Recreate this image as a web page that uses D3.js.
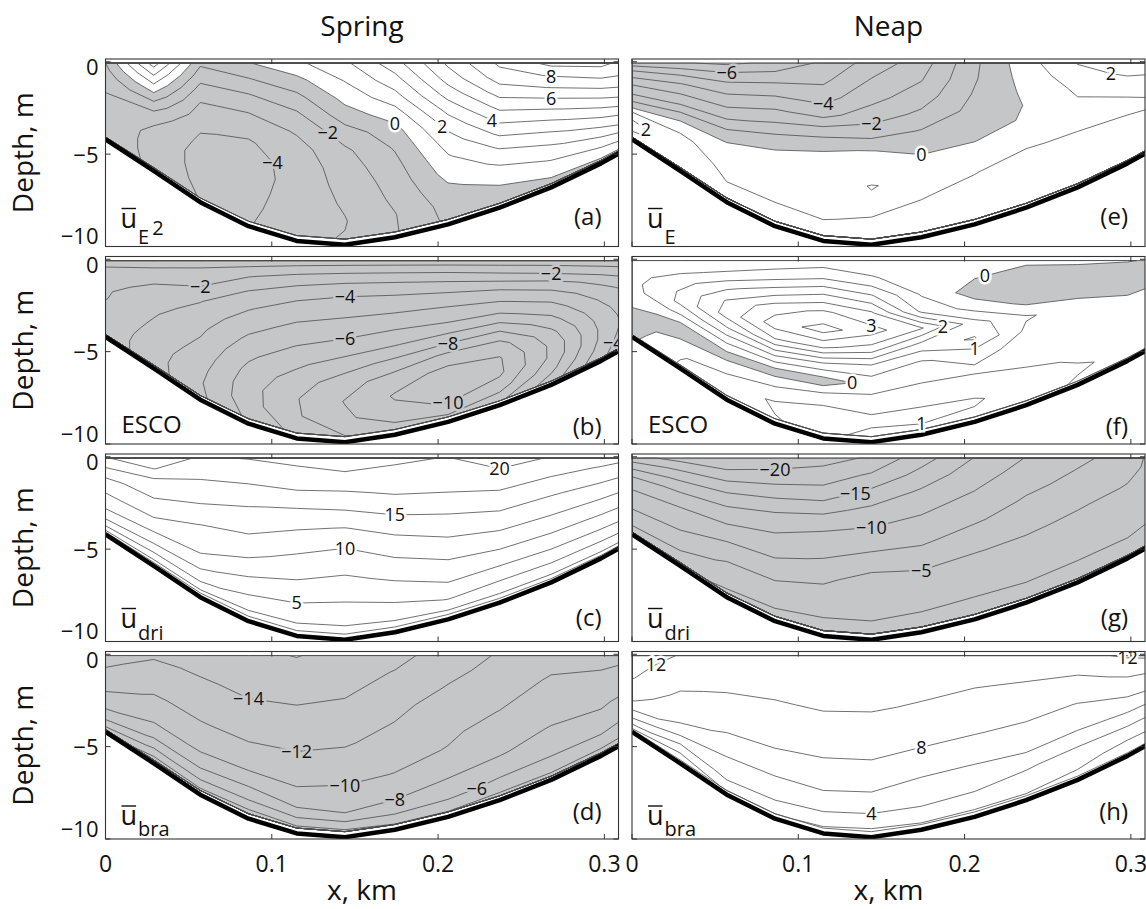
<!DOCTYPE html>
<html>
<head>
<meta charset="utf-8">
<script src="https://cdn.jsdelivr.net/npm/d3@7"></script>
<style>
  body { margin: 0; background: #fff; }
  text { font-family: "Open Sans", "Noto Sans", sans-serif; fill: #111; }
</style>
</head>
<body>
<svg id="fig" width="1146" height="909"></svg>
<script>
// ---- cross-section geometry ----
const stationX = [0, 0.029, 0.057, 0.086, 0.115, 0.144, 0.174, 0.206, 0.237, 0.268, 0.298, 0.309]; // km
const bottomDepth = [4.2, 5.9, 7.6, 8.9, 9.7, 9.9, 9.5, 8.8, 7.9, 6.8, 5.5, 4.95];               // m
const sigmaLevels = [0, 0.1, 0.2, 0.3, 0.4, 0.5, 0.6, 0.7, 0.8, 0.9, 1.0];                       // fraction of local depth

// ---- fields: one column per station, surface -> bottom ----
const springUE = [
  [-1.0, -1.3, -1.6, -1.8, -2.0, -2.1, -2.2, -2.2, -2.2, -2.2, -2.2],
  [3.5, 2.2, 1.0, -0.2, -1.4, -2.4, -3.0, -3.3, -3.4, -3.4, -3.3],
  [-0.8, -1.6, -2.4, -3.05, -3.5, -3.95, -4.2, -4.35, -4.3, -4.2, -4.05],
  [-0.05, -1.05, -2.05, -2.9, -3.6, -4.1, -4.4, -4.5, -4.4, -4.3, -4.1],
  [0.8, -0.3, -1.3, -2.2, -2.9, -3.4, -3.6, -3.6, -3.5, -3.3, -3.2],
  [1.8, 1.05, 0.3, -0.5, -1.5, -2.2, -2.5, -2.7, -2.9, -3.05, -2.95],
  [3.6, 2.6, 1.6, 0.5, -0.4, -0.9, -1.3, -1.6, -1.8, -2.05, -2.1],
  [6.2, 5.4, 4.4, 3.3, 2.3, 1.5, 0.9, 0.4, -0.2, -0.6, -0.8],
  [8.2, 7.5, 6.5, 5.4, 4.3, 3.2, 2.1, 1.2, 0.5, -0.2, -0.6],
  [9.3, 8.1, 7.05, 5.9, 4.8, 3.7, 2.7, 1.8, 1.05, 0.3, -0.3],
  [9.3, 8.5, 7.6, 6.6, 5.6, 4.6, 3.6, 2.6, 1.6, 0.7, -0.2],
  [8.8, 8.3, 7.6, 6.8, 5.9, 4.95, 3.95, 3.05, 1.95, 0.9, -0.2]
];
const neapUE = [
  [-6.6, -5.05, -3.95, -2.95, -2.2, -1.2, -0.05, 1.6, 2.2, 2.1, 1.6],
  [-6.9, -5.2, -3.95, -2.95, -1.95, -0.6, 0.5, 1.2, 1.5, 1.5, 1.4],
  [-7.2, -5.5, -4.3, -3.3, -2.2, -0.9, 0.1, 0.5, 0.8, 1.05, 1.3],
  [-6.8, -5.3, -4.1, -2.9, -1.7, -0.3, 0.3, 0.55, 0.8, 1.05, 1.3],
  [-5.8, -5.2, -4.4, -3.3, -1.4, -0.05, 0.35, 0.6, 0.8, 0.98, 1.25],
  [-4.6, -3.9, -3.3, -2.5, -1.4, 0.02, 0.5, 1.04, 0.85, 1.05, 1.3],
  [-3.5, -3.05, -2.5, -1.8, -0.95, -0.25, 0.35, 0.75, 0.98, 1.2, 1.3],
  [-1.2, -1.1, -0.9, -0.7, -0.4, -0.02, 0.55, 0.97, 1.2, 1.3, 1.35],
  [0.6, 0.4, 0.2, 0.05, 0.1, 0.5, 0.97, 1.25, 1.35, 1.35, 1.3],
  [2.05, 1.6, 1.2, 0.95, 0.85, 0.9, 1.05, 1.25, 1.35, 1.4, 1.35],
  [2.5, 2.2, 1.6, 1.1, 0.9, 0.95, 1.1, 1.3, 1.4, 1.4, 1.35],
  [2.2, 2.1, 1.8, 1.3, 0.98, 0.95, 1.1, 1.3, 1.35, 1.35, 1.3]
];
const springESCO = [
  [-0.3, -1.1, -1.4, -1.7, -1.9, -1.95, -2.1, -2.2, -2.3, -2.4, -2.4],
  [-0.3, -1.3, -1.9, -2.3, -2.6, -2.9, -3.1, -3.3, -3.5, -3.6, -3.6],
  [-0.4, -1.5, -2.05, -2.95, -3.4, -3.8, -4.1, -4.4, -4.7, -4.9, -4.8],
  [-0.4, -1.95, -3.1, -3.9, -4.6, -5.2, -5.8, -6.3, -6.6, -6.6, -6.2],
  [-0.4, -2.4, -3.7, -4.6, -5.3, -6.05, -6.8, -7.5, -7.95, -7.9, -7.3],
  [-0.4, -2.6, -3.95, -4.8, -5.6, -6.5, -7.6, -8.6, -9.05, -8.8, -7.95],
  [-0.4, -2.6, -3.95, -4.9, -5.9, -6.95, -8.3, -9.5, -10.1, -9.7, -8.5],
  [-0.4, -2.5, -3.95, -5.05, -6.05, -7.5, -9.2, -10.3, -10.6, -10.1, -8.8],
  [-0.4, -2.2, -3.9, -5.1, -6.3, -7.95, -9.4, -10.1, -10.2, -9.5, -8.2],
  [-0.4, -1.9, -3.5, -4.6, -5.5, -6.4, -7.3, -7.8, -7.8, -7.3, -6.5],
  [-0.3, -1.5, -2.6, -3.4, -3.9, -4.3, -4.6, -4.8, -4.8, -4.6, -4.3],
  [-0.3, -1.3, -2.2, -2.9, -3.4, -3.7, -3.9, -4.05, -3.9, -3.7, -3.4]
];
const neapESCO = [
  [0.1, 0.2, 0.3, 0.35, 0.3, 0.15, 0.05, -0.1, -0.2, -0.2, -0.1],
  [0.1, 0.4, 0.8, 1.05, 1.1, 0.6, -0.05, -0.2, 0.2, 0.45, 0.55],
  [0.1, 0.6, 1.4, 2.05, 2.2, 1.45, 0.6, -0.2, 0.3, 0.8, 0.9],
  [0.15, 0.8, 1.8, 2.8, 3.25, 2.45, 1.02, -0.25, 0.52, 1.05, 0.98],
  [0.2, 0.95, 2.05, 3.1, 3.7, 2.6, 0.9, -0.3, 0.9, 1.15, 1.1],
  [0.2, 0.55, 1.55, 2.6, 3.2, 2.3, 0.9, 0.2, 0.7, 1.1, 0.9],
  [0.15, 0.25, 0.45, 0.9, 2.55, 1.3, 0.45, 0.4, 0.8, 1.1, 0.95],
  [0.15, 0.05, -0.25, 0.3, 1.2, 1.55, 0.7, 0.4, 0.8, 1.05, 0.9],
  [0.1, -0.2, -0.4, -0.1, 0.55, 0.4, 0.3, 0.35, 0.6, 0.8, 0.7],
  [0.05, -0.1, -0.4, -0.05, 0.3, 0.35, 0.3, 0.35, 0.45, 0.55, 0.45],
  [0.05, -0.3, -0.45, -0.2, 0.15, 0.3, 0.3, 0.35, 0.4, 0.4, 0.35],
  [-0.05, -0.35, -0.4, -0.05, 0.2, 0.3, 0.3, 0.35, 0.4, 0.4, 0.35]
];
const springDri = [
  [19.9, 18.0, 16.2, 14.4, 13.2, 12.2, 11.0, 9.8, 8.0, 5.6, 1.5],
  [21.0, 20.1, 17.4, 16.0, 14.8, 13.6, 12.0, 10.1, 8.0, 5.1, 1.5],
  [19.8, 18.2, 17.0, 15.6, 14.0, 12.4, 11.3, 10.1, 8.0, 5.6, 1.5],
  [20.1, 18.7, 16.8, 15.1, 13.7, 12.2, 10.6, 8.6, 6.4, 4.2, 1.5],
  [20.5, 19.4, 17.2, 14.8, 12.8, 11.0, 9.2, 7.6, 5.8, 3.8, 1.5],
  [21.0, 19.7, 17.2, 14.9, 12.4, 10.2, 8.6, 6.9, 5.3, 3.6, 1.5],
  [20.4, 19.4, 17.8, 15.8, 13.6, 11.6, 9.8, 8.0, 6.1, 4.1, 1.5],
  [19.9, 19.2, 17.8, 16.1, 14.2, 12.6, 10.8, 9.2, 7.4, 5.1, 1.5],
  [21.2, 19.6, 18.0, 16.3, 14.6, 12.8, 11.0, 9.0, 6.8, 4.4, 1.5],
  [19.8, 18.3, 16.8, 15.2, 13.6, 12.1, 10.4, 8.6, 6.6, 4.3, 1.5],
  [18.8, 17.3, 15.8, 14.3, 12.8, 11.3, 9.7, 8.1, 6.1, 4.1, 1.5],
  [18.3, 16.8, 15.3, 13.9, 12.4, 11.0, 9.4, 7.9, 6.1, 4.1, 1.5]
];
const neapDri = [
  [-19.0, -16.2, -13.7, -11.4, -10.3, -9.2, -8.2, -7.4, -6.3, -5.1, -4.1],
  [-21.0, -18.0, -15.4, -13.1, -11.0, -9.6, -8.4, -7.4, -6.2, -4.8, -3.1],
  [-22.4, -19.6, -16.6, -13.8, -11.6, -9.8, -7.9, -5.8, -4.6, -3.4, -2.1],
  [-22.0, -19.2, -16.6, -13.6, -11.1, -9.6, -8.1, -6.2, -4.6, -3.2, -1.8],
  [-21.1, -18.7, -16.6, -13.2, -10.4, -8.8, -7.2, -5.4, -4.1, -2.8, -1.6],
  [-19.6, -17.1, -14.2, -11.8, -9.9, -8.3, -5.8, -4.2, -3.4, -2.8, -1.6],
  [-16.1, -14.1, -12.1, -10.4, -9.3, -7.8, -6.1, -4.4, -3.4, -2.6, -1.6],
  [-12.4, -11.1, -10.1, -9.1, -7.8, -6.4, -5.1, -3.9, -3.2, -2.4, -1.6],
  [-9.9, -9.1, -8.1, -7.2, -6.4, -5.4, -4.6, -3.7, -3.1, -2.4, -1.6],
  [-8.1, -7.4, -6.8, -6.1, -5.2, -4.6, -3.9, -3.2, -2.7, -2.3, -1.6],
  [-6.4, -6.1, -5.3, -4.8, -4.3, -3.8, -3.3, -2.9, -2.6, -2.1, -1.6],
  [-4.8, -4.6, -4.3, -4.1, -3.7, -3.4, -3.1, -2.7, -2.3, -2.0, -1.6]
];
const springBra = [
  [-15.1, -14.3, -13.8, -13.2, -12.6, -11.9, -11.1, -10.2, -9.1, -7.4, -5.1],
  [-14.3, -13.5, -13.1, -12.5, -11.8, -11.1, -10.4, -9.4, -7.8, -5.7, -3.1],
  [-15.1, -14.4, -13.7, -13.1, -12.5, -11.9, -11.1, -10.2, -8.7, -6.6, -3.5],
  [-15.5, -15.1, -14.5, -13.8, -13.1, -12.4, -11.5, -10.5, -8.6, -6.4, -3.1],
  [-16.1, -15.2, -14.7, -13.9, -13.2, -12.5, -11.6, -10.6, -9.6, -7.6, -3.5],
  [-15.2, -14.8, -14.3, -13.6, -12.8, -12.2, -11.2, -10.4, -9.3, -7.9, -3.5],
  [-14.6, -13.9, -13.2, -12.5, -11.95, -11.3, -10.6, -9.95, -8.8, -7.3, -3.9],
  [-13.1, -12.5, -11.9, -11.2, -10.7, -10.3, -9.9, -9.1, -7.8, -6.5, -3.9],
  [-11.8, -11.4, -10.9, -10.5, -9.95, -9.3, -8.6, -8.2, -6.9, -5.6, -3.5],
  [-10.9, -10.3, -9.8, -9.3, -8.8, -8.4, -7.9, -7.1, -6.4, -5.2, -3.5],
  [-10.6, -10.2, -9.8, -9.2, -8.7, -8.2, -7.8, -6.9, -6.1, -5.1, -3.1],
  [-10.5, -10.05, -9.5, -9.1, -8.4, -7.8, -7.2, -6.5, -5.6, -4.6, -3.1]
];
const neapBra = [
  [13.0, 12.7, 12.4, 12.1, 11.2, 10.7, 10.1, 8.6, 6.8, 4.9, 1.5],
  [11.9, 11.3, 10.8, 10.2, 9.7, 9.1, 8.4, 7.5, 5.2, 2.6, 0.8],
  [11.8, 11.2, 10.6, 9.8, 9.1, 8.5, 7.8, 6.6, 5.4, 4.5, 2.2],
  [11.7, 11.2, 10.6, 9.85, 9.2, 8.6, 7.9, 6.8, 5.5, 4.3, 2.1],
  [11.6, 11.2, 10.7, 10.2, 9.3, 8.6, 7.95, 6.9, 5.8, 4.1, 1.8],
  [11.6, 11.2, 10.7, 10.2, 9.2, 8.6, 7.95, 6.9, 5.7, 3.95, 1.6],
  [11.5, 11.05, 10.5, 9.8, 9.05, 8.3, 7.6, 6.2, 5.2, 3.9, 1.8],
  [11.3, 10.7, 10.05, 9.4, 8.7, 8.05, 7.05, 5.95, 4.9, 3.6, 1.7],
  [11.2, 10.6, 9.9, 9.1, 8.5, 7.8, 7.05, 5.9, 4.2, 3.1, 1.8],
  [11.4, 10.5, 9.7, 9.05, 7.95, 7.2, 6.3, 4.8, 3.4, 2.4, 1.5],
  [12.3, 11.05, 10.2, 9.2, 8.3, 7.05, 5.8, 4.4, 2.9, 1.6, 1.1],
  [12.4, 11.05, 10.05, 9.05, 8.05, 6.7, 5.4, 4.05, 2.8, 1.6, 1.1]
];

// ---- contour levels ----
const levelsSpringUE = d3.range(-6, 11, 1);
const levelsNeapUE = d3.range(-7, 4, 1);
const levelsSpringESCO = d3.range(-11, 0, 1);
const levelsNeapESCO = d3.range(0, 4, 0.5);
const levelsSpringDri = d3.range(2.5, 25, 2.5);
const levelsNeapDri = d3.range(-22.5, 0, 2.5);
const levelsSpringBra = d3.range(-16, 0, 2);
const levelsNeapBra = d3.range(2, 14, 2);

// ---- inline contour labels: [value, x (km), depth (m)] ----
const labelsSpringUE = [[-4, 0.106, 4.8], [-2, 0.132, 3.5], [0, 0.171, 3.0], [2, 0.2, 3.5], [4, 0.23, 3.0], [6, 0.256, 1.8], [8, 0.272, 0.7]];
const labelsNeapUE = [[-6, 0.06, 0.58], [-4, 0.103, 2.3], [-2, 0.151, 3.4], [0, 0.182, 4.9], [2, 0.024, 4.2], [2, 0.29, 0.7]];
const labelsSpringESCO = [[-2, 0.058, 1.67], [-4, 0.152, 1.85], [-6, 0.157, 4.3], [-8, 0.2, 4.76], [-10, 0.203, 7.76], [-2, 0.267, 0.95], [-4, 0.3, 5.0]];
const labelsNeapESCO = [[0, 0.222, 0.95], [3, 0.142, 3.3], [2, 0.185, 4.2], [1, 0.192, 5.3], [0, 0.126, 6.9], [1, 0.164, 8.85]];
const labelsSpringDri = [[20, 0.231, 0.83], [15, 0.186, 2.2], [10, 0.159, 5.1], [5, 0.124, 7.96]];
const labelsNeapDri = [[-20, 0.0835, 0.65], [-15, 0.136, 1.67], [-10, 0.151, 3.74], [-5, 0.162, 6.1]];
const labelsSpringBra = [[-14, 0.093, 2.6], [-12, 0.107, 5.3], [-10, 0.134, 7.5], [-8, 0.171, 7.9], [-6, 0.221, 7.6]];
const labelsNeapBra = [[12, 0.012, 0.83], [12, 0.3, 0.18], [8, 0.164, 5.25], [4, 0.158, 8.5]];

// ---- axes ----
const xTicks = [0, 0.1, 0.2, 0.3];
const yTicks = [0, -5, -10];
const columnTitles = ["Spring", "Neap"];
const panelLetters = ["(a)", "(b)", "(c)", "(d)", "(e)", "(f)", "(g)", "(h)"];
const variableNames = [["u", "E", "2"], ["ESCO"], ["u", "dri"], ["u", "bra"], ["u", "E"], ["ESCO"], ["u", "dri"], ["u", "bra"]];

// ---- layout ----
const colLeft = [105.5, 632];
const panelW = 513;
const rowTop = [59, 256.5, 454, 651.5];
const panelH = 187.5;
const xDomain = [0, 0.3085];
const yDomain = [-10, 0.15];
const zTop = 0.07;        // depth of shallowest data row
const bottomFrac = 0.97;  // deepest data row relative to the bed
const grayFill = "#c5c6c8";
const lineColor = "#4d4d4d";

const panels = [
  { field: springUE, levels: levelsSpringUE, labels: labelsSpringUE },
  { field: springESCO, levels: levelsSpringESCO, labels: labelsSpringESCO },
  { field: springDri, levels: levelsSpringDri, labels: labelsSpringDri },
  { field: springBra, levels: levelsSpringBra, labels: labelsSpringBra },
  { field: neapUE, levels: levelsNeapUE, labels: labelsNeapUE },
  { field: neapESCO, levels: levelsNeapESCO, labels: labelsNeapESCO },
  { field: neapDri, levels: levelsNeapDri, labels: labelsNeapDri },
  { field: neapBra, levels: levelsNeapBra, labels: labelsNeapBra }
];

const svg = d3.select("#fig");
const nX = stationX.length, nS = sigmaLevels.length;
const idxToX = d3.scaleLinear().domain(d3.range(nX)).range(stationX);
const idxToH = d3.scaleLinear().domain(d3.range(nX)).range(bottomDepth);
const idxToS = d3.scaleLinear().domain(d3.range(nS)).range(sigmaLevels);
const fmt = v => (v < 0 ? "\u2212" : "") + Math.abs(v);
// end tick labels sit slightly inside the axis span so stacked panels don't collide
const yLabelShift = t => (t === 0 ? 6 : t === -10 ? -10 : 1);

panels.forEach((p, k) => {
  const col = Math.floor(k / 4), row = k % 4;
  const left = colLeft[col], top = rowTop[row];
  const bottom = top + panelH, right = left + panelW;
  const x = d3.scaleLinear().domain(xDomain).range([left, right]);
  const y = d3.scaleLinear().domain(yDomain).range([bottom, top]);
  const g = svg.append("g");

  const clipId = "clip" + k;
  svg.append("clipPath").attr("id", clipId)
    .append("rect").attr("x", left).attr("y", top).attr("width", panelW).attr("height", panelH);
  const plot = g.append("g").attr("clip-path", `url(#${clipId})`);

  // grid values, row-major (sigma rows, station columns)
  const values = new Array(nX * nS);
  for (let j = 0; j < nS; j++) for (let i = 0; i < nX; i++) values[j * nX + i] = p.field[i][j];

  const toPixel = (gi, gj) => {
    const depth = zTop + idxToS(gj) * (bottomFrac * idxToH(gi) - zTop);
    return [x(idxToX(gi)), y(-depth)];
  };
  const project = ([cx, cy]) => toPixel(
    Math.max(0, Math.min(nX - 1, cx - 0.5)),
    Math.max(0, Math.min(nS - 1, cy - 0.5)));
  const onEdge = ([cx, cy]) => cx <= 0.5 || cx >= nX - 0.5 || cy <= 0.5 || cy >= nS - 0.5;
  const mpPath = mp => mp.coordinates.map(poly => poly.map(ring =>
    "M" + ring.map(pt => project(pt).map(v => v.toFixed(2)).join(",")).join("L") + "Z").join("")).join("");

  const gen = d3.contours().size([nX, nS]);

  // negative region in gray
  const neg = gen.contour(values.map(v => -v), 0);
  plot.append("path").attr("d", mpPath(neg))
    .attr("fill", grayFill).attr("fill-rule", "evenodd").attr("stroke", "none");

  // contour lines
  const byLevel = new Map();
  p.levels.forEach(lv => {
    const c = gen.contour(values, lv);
    byLevel.set(+lv.toFixed(3), c);
    plot.append("path").attr("d", mpPath(c))
      .attr("fill", "none").attr("stroke", lineColor).attr("stroke-width", 0.8)
      .attr("stroke-linejoin", "round");
  });

  // outline of the data region
  const outline = [];
  for (let i = 0; i < nX; i++) outline.push(toPixel(i, 0));
  for (let j = 1; j < nS; j++) outline.push(toPixel(nX - 1, j));
  for (let i = nX - 2; i >= 0; i--) outline.push(toPixel(i, nS - 1));
  for (let j = nS - 2; j > 0; j--) outline.push(toPixel(0, j));
  plot.append("path").attr("d", d3.line()(outline) + "Z")
    .attr("fill", "none").attr("stroke", lineColor).attr("stroke-width", 0.8);

  // channel bed
  plot.append("path")
    .attr("d", d3.line().x((d, i) => x(stationX[i])).y(d => y(-d))(bottomDepth))
    .attr("fill", "none").attr("stroke", "#000").attr("stroke-width", 4.5).attr("stroke-linejoin", "round");

  // inline labels, snapped onto the nearest vertex of their contour
  p.labels.forEach(([val, lx, lz]) => {
    const c = byLevel.get(+val.toFixed(3));
    if (!c) return;
    const target = [x(lx), y(-lz)];
    let best = null, bestD = Infinity;
    c.coordinates.forEach(poly => poly.forEach(ring => ring.forEach(pt => {
      if (onEdge(pt)) return;
      const q = project(pt);
      const d = (q[0] - target[0]) ** 2 + (q[1] - target[1]) ** 2;
      if (d < bestD) { bestD = d; best = q; }
    })));
    if (!best) best = target;
    plot.append("text").attr("x", best[0]).attr("y", best[1] + 6.5)
      .attr("text-anchor", "middle").attr("font-size", 18)
      .attr("stroke", val < 0 ? grayFill : "#fff").attr("stroke-width", 5)
      .attr("paint-order", "stroke").text(fmt(val));
  });

  // frame and inward ticks
  g.append("rect").attr("x", left).attr("y", top).attr("width", panelW).attr("height", panelH)
    .attr("fill", "none").attr("stroke", "#333").attr("stroke-width", 1.1);
  const tl = 5;
  xTicks.forEach(t => {
    const px = x(t);
    g.append("line").attr("x1", px).attr("x2", px).attr("y1", bottom).attr("y2", bottom - tl).attr("stroke", "#333");
    g.append("line").attr("x1", px).attr("x2", px).attr("y1", top).attr("y2", top + tl).attr("stroke", "#333");
  });
  yTicks.forEach(t => {
    const py = y(t);
    g.append("line").attr("x1", left).attr("x2", left + tl).attr("y1", py).attr("y2", py).attr("stroke", "#333");
    g.append("line").attr("x1", right).attr("x2", right - tl).attr("y1", py).attr("y2", py).attr("stroke", "#333");
  });

  // tick labels
  if (col === 0) {
    yTicks.forEach(t => {
      g.append("text").attr("x", left - 7).attr("y", y(t) + yLabelShift(t) + 7.5).attr("text-anchor", "end")
        .attr("font-size", 22).text(fmt(t));
    });
    g.append("text").attr("transform", `translate(33,${(top + bottom) / 2}) rotate(-90)`)
      .attr("text-anchor", "middle").attr("font-size", 28).text("Depth, m");
  }
  if (row === 3) {
    xTicks.forEach(t => {
      g.append("text").attr("x", x(t)).attr("y", bottom + 33).attr("text-anchor", "middle")
        .attr("font-size", 23).text(t === 0 ? "0" : t.toFixed(1));
    });
    g.append("text").attr("x", (left + right) / 2).attr("y", 900).attr("text-anchor", "middle")
      .attr("font-size", 28).text("x, km");
  }
  if (row === 0) {
    g.append("text").attr("x", (left + right) / 2).attr("y", 35.5).attr("text-anchor", "middle")
      .attr("font-size", 28).text(columnTitles[col]);
  }

  // panel letter
  const letterBase = [bottom - 22, bottom - 9, bottom - 16, bottom - 19][row];
  g.append("text").attr("x", right - 17).attr("y", letterBase).attr("text-anchor", "end")
    .attr("font-size", 24).text(panelLetters[k]);

  // variable name
  const nm = variableNames[k];
  if (nm[0] === "ESCO") {
    g.append("text").attr("x", left + 16).attr("y", bottom - 11).attr("font-size", 24).text("ESCO");
  } else {
    const uBase = [bottom - 19, 0, bottom - 14, bottom - 14][row];
    const subBase = [bottom - 3, 0, bottom - 2, bottom - 3][row];
    const u = g.append("text").attr("x", left + 15).attr("y", uBase).attr("font-size", 27).text(nm[0]);
    const w = u.node().getComputedTextLength();
    g.append("line").attr("x1", left + 16).attr("x2", left + 15 + w - 1)
      .attr("y1", uBase - 19).attr("y2", uBase - 19).attr("stroke", "#111").attr("stroke-width", 1.4);
    const sub = g.append("text").attr("x", left + 15 + w + 1).attr("y", subBase).attr("font-size", 20);
    sub.append("tspan").text(nm[1]);
    if (nm[2]) sub.append("tspan").attr("dx", 3).attr("dy", -9).text(nm[2]);
  }
});
</script>
</body>
</html>
